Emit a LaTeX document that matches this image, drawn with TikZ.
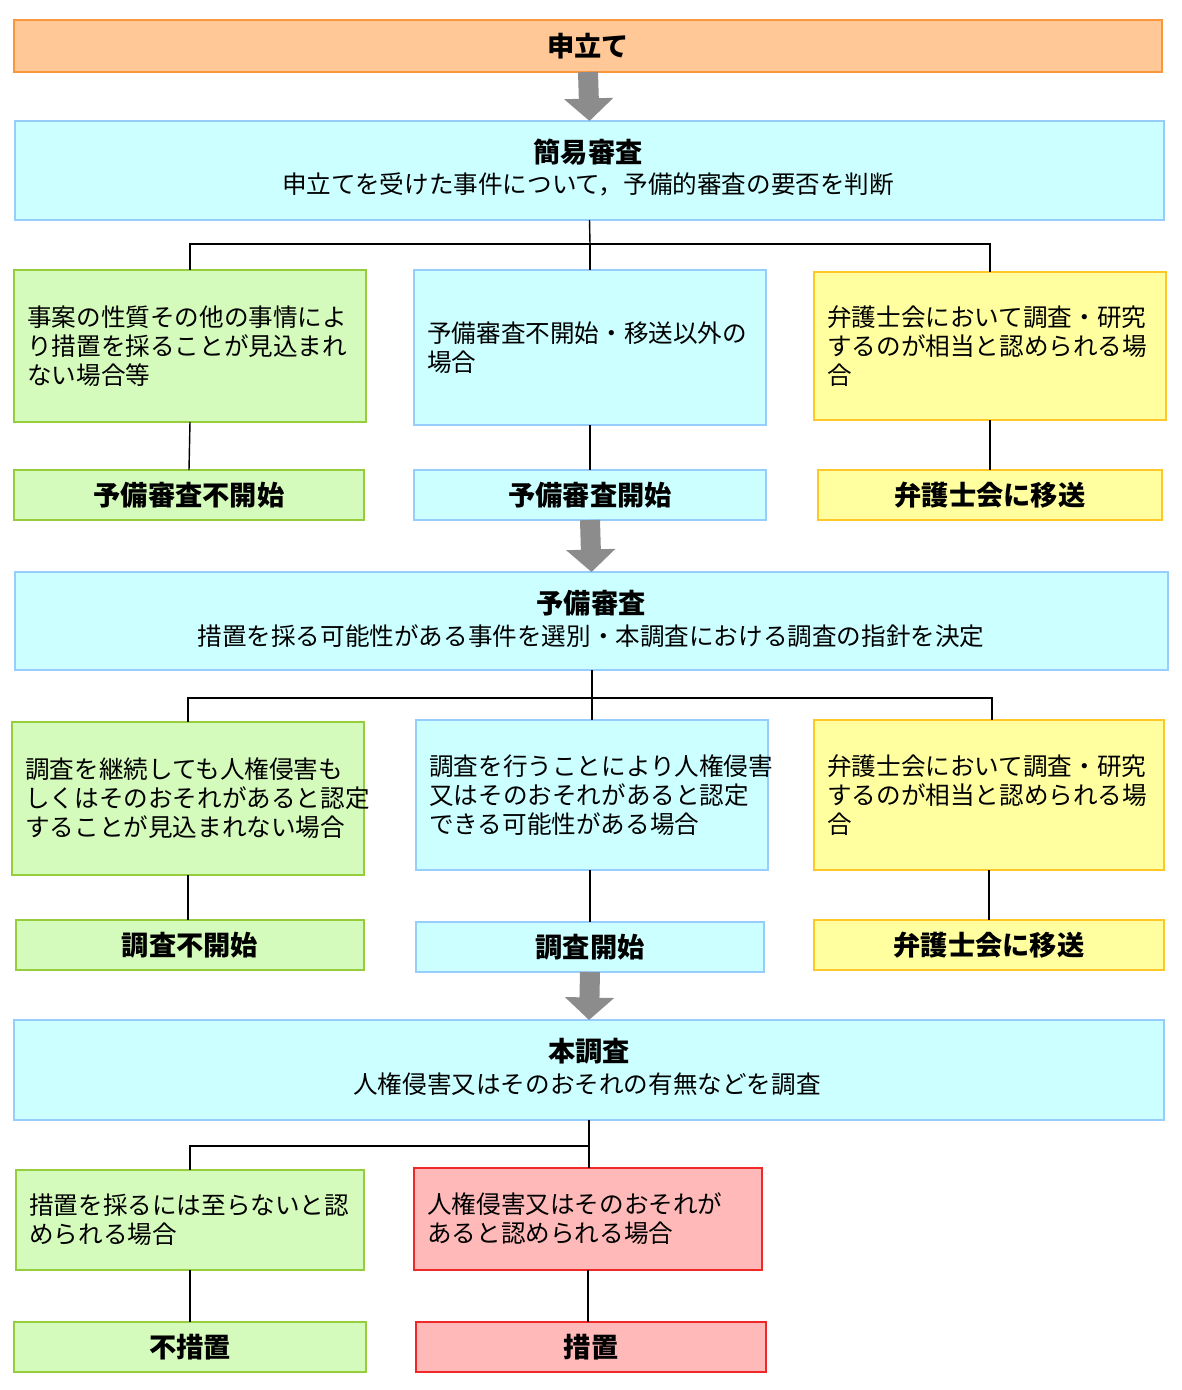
\documentclass[tikz,border=0pt]{standalone}
\usepackage{fontspec}
\setmainfont{Noto Sans CJK JP}
\usetikzlibrary{arrows.meta}
\definecolor{grfill}{RGB}{212,250,188}
\definecolor{grline}{RGB}{150,205,60}
\definecolor{cyfill}{RGB}{204,255,255}
\definecolor{cyline}{RGB}{150,205,250}
\definecolor{yefill}{RGB}{255,255,160}
\definecolor{yeline}{RGB}{255,200,40}
\definecolor{rdfill}{RGB}{255,185,185}
\definecolor{rdline}{RGB}{240,40,40}
\definecolor{orfill}{RGB}{255,200,150}
\definecolor{orline}{RGB}{250,150,60}
\tikzset{
  box/.style={draw=#1line, fill=#1fill, line width=0.8pt, inner sep=0pt},
  txt/.style={font=\fontsize{14}{16.5}\selectfont, align=left, anchor=west},
  ttl/.style={font=\fontsize{15.5}{18}\selectfont\bfseries},
  big/.style={gray!90, line width=0.4cm, -{Triangle[length=0.45cm,width=0.96cm]}},
  link/.style={black, line width=0.8pt}
}
\newcommand{\rect}[6]{% name, color, x1, y1, x2, y2
  \path[box=#2] (#3,#4) rectangle (#5,#6);
  \coordinate (#1-n) at ({(#3+#5)/2},#4);
  \coordinate (#1-s) at ({(#3+#5)/2},#6);
  \coordinate (#1-c) at ({(#3+#5)/2},{(#4+#6)/2});
  \coordinate (#1-w) at (#3,{(#4+#6)/2});
}
\begin{document}
\begin{tikzpicture}[x=0.02cm, y=-0.02cm]
  \useasboundingbox (0,0) rectangle (1182,1390);
  % top
  \rect{mt}{or}{14}{20}{1162}{72}
  \node[ttl] (mtt) at (mt-c) {申立て};
  \rect{ks}{cy}{15}{121}{1164}{220}
  \node[ttl] (kst) at (588,152) {簡易審査};
  \node[font=\fontsize{14}{16}\selectfont] (ksd) at (588,184) {申立てを受けた事件について，予備的審査の要否を判断};
  \draw[big] (mt-s) -- (ks-n);
  % first branch
  \rect{a1}{gr}{14}{270}{366}{422}
  \rect{a2}{cy}{414}{270}{766}{425}
  \rect{a3}{ye}{814}{272}{1166}{420}
  \node[txt] (a1t) at ([xshift=4]a1-w) {事案の性質その他の事情によ\\り措置を採ることが見込まれ\\ない場合等};
  \node[txt] (a2t) at ([xshift=4]a2-w) {予備審査不開始・移送以外の\\場合};
  \node[txt] (a3t) at ([xshift=4]a3-w) {弁護士会において調査・研究\\するのが相当と認められる場\\合};
  \rect{b1}{gr}{14}{470}{364}{520}
  \rect{b2}{cy}{414}{470}{766}{520}
  \rect{b3}{ye}{818}{470}{1162}{520}
  \node[ttl] (b1t) at (b1-c) {予備審査不開始};
  \node[ttl] (b2t) at (b2-c) {予備審査開始};
  \node[ttl] (b3t) at (b3-c) {弁護士会に移送};
  \draw[link] (ks-s) -- (590,244) coordinate (j1);
  \draw[link] (a1-n) |- (j1) -| (a3-n);
  \draw[link] (j1) -- (a2-n);
  \draw[link] (190,422) -- (b1-n);
  \draw[link] (a2-s) -- (b2-n);
  \draw[link] (990,420) -- (b3-n);
  % second
  \rect{ys}{cy}{15}{572}{1168}{670}
  \node[ttl] (yst) at (591,603) {予備審査};
  \node[font=\fontsize{14}{16}\selectfont] (ysd) at (591,636) {措置を採る可能性がある事件を選別・本調査における調査の指針を決定};
  \draw[big] (b2-s) -- (ys-n);
  \rect{c1}{gr}{12}{722}{364}{875}
  \rect{c2}{cy}{416}{720}{768}{870}
  \rect{c3}{ye}{814}{720}{1164}{870}
  \node[txt] (c1t) at ([xshift=4]c1-w) {調査を継続しても人権侵害も\\しくはそのおそれがあると認定\\することが見込まれない場合};
  \node[txt] (c2t) at ([xshift=4]c2-w) {調査を行うことにより人権侵害\\又はそのおそれがあると認定\\できる可能性がある場合};
  \node[txt] (c3t) at ([xshift=4]c3-w) {弁護士会において調査・研究\\するのが相当と認められる場\\合};
  \rect{d1}{gr}{16}{920}{364}{970}
  \rect{d2}{cy}{416}{922}{764}{972}
  \rect{d3}{ye}{814}{920}{1164}{970}
  \node[ttl] (d1t) at (d1-c) {調査不開始};
  \node[ttl] (d2t) at (d2-c) {調査開始};
  \node[ttl] (d3t) at (d3-c) {弁護士会に移送};
  \draw[link] (592,670) -- (592,698) coordinate (j2);
  \draw[link] (188,722) |- (j2) -| (992,720);
  \draw[link] (j2) -- (592,720);
  \draw[link] (188,875) -- (188,920);
  \draw[link] (590,870) -- (590,922);
  \draw[link] (989,870) -- (989,920);
  % third
  \rect{hc}{cy}{14}{1020}{1164}{1120}
  \node[ttl] (hct) at (589,1051) {本調査};
  \node[font=\fontsize{14}{16}\selectfont] (hcd) at (587,1084) {人権侵害又はそのおそれの有無などを調査};
  \draw[big] (d2-s) -- (hc-n);
  \rect{e1}{gr}{16}{1170}{364}{1270}
  \rect{e2}{rd}{414}{1168}{762}{1270}
  \node[txt] (e1t) at ([xshift=4]e1-w) {措置を採るには至らないと認\\められる場合};
  \node[txt] (e2t) at ([xshift=4]e2-w) {人権侵害又はそのおそれが\\あると認められる場合};
  \rect{f1}{gr}{14}{1322}{366}{1372}
  \rect{f2}{rd}{416}{1322}{766}{1372}
  \node[ttl] (f1t) at (f1-c) {不措置};
  \node[ttl] (f2t) at (f2-c) {措置};
  \draw[link] (hc-s) -- (589,1146) coordinate (j3);
  \draw[link] (j3) -| (190,1170);
  \draw[link] (j3) -- (589,1168);
  \draw[link] (190,1270) -- (190,1322);
  \draw[link] (e2-s) -- (588,1322);
\end{tikzpicture}
\end{document}
